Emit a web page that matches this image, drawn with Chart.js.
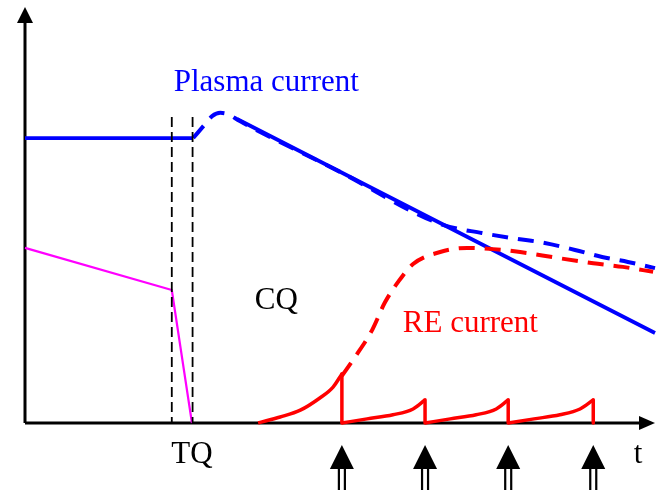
<!DOCTYPE html>
<html>
<head>
<meta charset="utf-8">
<script src="https://cdn.jsdelivr.net/npm/chart.js@4/dist/chart.umd.min.js"></script>
<style>
  html,body{margin:0;padding:0;background:#fff;}
  canvas{display:block;}
</style>
</head>
<body>
<canvas id="cqChart" width="667" height="490"></canvas>
<script>
// time axis 0..100, current axis 0..100 (arbitrary units)
const tqTimes = [23.3, 26.6];
const tqTop = 74.1;

// ohmic plasma current (solid blue), null = gap during the bump
const plasmaT = [0, 26.6, 30, 33.65, 100];
const plasmaI = [69, 69, null, 73.6, 21.8];

// total plasma current (dashed blue)
const totalT = [26.7, 28.6, 29.7, 31.0, 32.2, 34.1, 50, 65.9, 72.5, 78.1, 82.5, 87.3, 91.6, 95.7, 100];
const totalI = [69.0, 72.4, 74.3, 75.1, 74.8, 73.1, 60.8, 48.2, 46.0, 44.6, 43.6, 41.9, 40.2, 39.0, 37.5];

// runaway electron current (dashed red)
const reT = [50.3, 52.4, 55.1, 57.1, 59.2, 61.6, 65.9, 70.2, 74.3, 78.6, 84.4, 90.2, 94.9, 99.7];
const reI = [11.4, 16.0, 22.5, 29.1, 34.1, 38.5, 41.4, 42.4, 42.1, 41.4, 40.0, 38.7, 37.8, 36.6];

// seed RE current, sawtooth (solid red); a repeated time = drop to zero
const seedT = [37.0, 40.5, 43.7, 46.8, 48.9, 50.3, 50.3, 54.3, 58.4, 61.6, 63.5, 63.5, 67.5, 71.6, 74.8, 76.7, 76.7, 80.8, 84.9, 88.1, 90.2, 90.2];
const seedI = [0, 1.45, 3.1, 6.05, 8.7, 11.9, 0, 1.0, 2.0, 3.4, 5.6, 0, 1.0, 2.0, 3.4, 5.6, 0, 1.0, 2.0, 3.4, 5.6, 0];

// thermal energy (magenta)
const thermalT = [0, 23.3, 26.5];
const thermalW = [42.4, 32.2, 0];

// kick times (arrows below the axis)
const kickTimes = [50.3, 63.5, 76.7, 90.2];

const zip = (xs, ys) => xs.map((x, i) => ({x: x, y: ys[i]}));

// split the sawtooth into smooth rising parts and vertical drops
function splitTeeth(ts, vs) {
  const rises = [], drops = [];
  let cur = [];
  ts.forEach((t, i) => {
    if (i > 0 && t === ts[i - 1]) {
      rises.push(cur);
      drops.push([{x: t, y: vs[i - 1]}, {x: t, y: vs[i]}]);
      cur = [];
    }
    cur.push({x: t, y: vs[i]});
  });
  if (cur.length > 1) rises.push(cur);
  return {rises, drops};
}

const serif = '"Liberation Serif", "Times New Roman", serif';

const annotations = [
  {text: "Plasma current", x: 38.3, y: 80.4, color: "#0000ff"},
  {text: "CQ", x: 39.9, y: 27.6, color: "#000"},
  {text: "RE current", x: 70.7, y: 22.0, color: "#ff0000"},
  {text: "TQ", x: 26.5, y: -9.7, color: "#000"},
  {text: "t", x: 97.3, y: -9.7, color: "#000"}
];

/* axes with arrowheads */
const axesPlugin = {
  id: "axes",
  beforeDatasetsDraw(chart) {
    const c = chart.ctx, a = chart.chartArea;
    c.save();
    c.strokeStyle = "#000";
    c.fillStyle = "#000";
    c.lineWidth = 3;
    c.beginPath();
    c.moveTo(a.left, a.bottom);
    c.lineTo(a.left, a.top + 12);
    c.moveTo(a.left, a.bottom);
    c.lineTo(a.right - 14, a.bottom);
    c.stroke();
    c.beginPath();
    c.moveTo(a.left, a.top - 3);
    c.lineTo(a.left - 8, a.top + 13);
    c.lineTo(a.left + 8, a.top + 13);
    c.closePath();
    c.fill();
    c.beginPath();
    c.moveTo(a.right, a.bottom);
    c.lineTo(a.right - 16, a.bottom - 7);
    c.lineTo(a.right - 16, a.bottom + 7);
    c.closePath();
    c.fill();
    c.restore();
  }
};

/* kick arrows + text */
const notesPlugin = {
  id: "notes",
  afterDatasetsDraw(chart) {
    const c = chart.ctx, xs = chart.scales.x, ys = chart.scales.y;
    c.save();
    c.fillStyle = "#000";
    c.strokeStyle = "#000";
    kickTimes.forEach(t => {
      const px = xs.getPixelForValue(t);
      c.beginPath();
      c.moveTo(px, 445);
      c.lineTo(px - 12, 469);
      c.lineTo(px + 12, 469);
      c.closePath();
      c.fill();
      c.lineWidth = 2.2;
      c.beginPath();
      c.moveTo(px - 3, 468); c.lineTo(px - 3, 490);
      c.moveTo(px + 3, 468); c.lineTo(px + 3, 490);
      c.stroke();
    });
    c.font = "31px " + serif;
    c.textAlign = "center";
    c.textBaseline = "alphabetic";
    annotations.forEach(n => {
      c.fillStyle = n.color;
      c.fillText(n.text, xs.getPixelForValue(n.x), ys.getPixelForValue(n.y));
    });
    c.restore();
  }
};

const base = {pointRadius: 0, fill: false, clip: false, borderCapStyle: "butt", borderJoinStyle: "round"};
const teeth = splitTeeth(seedT, seedI);

const datasets = [
  ...tqTimes.map(t => ({...base, data: [{x: t, y: tqTop}, {x: t, y: 0}], borderColor: "#000", borderWidth: 1.8, borderDash: [10, 5]})),
  {...base, data: zip(thermalT, thermalW), borderColor: "#ff00ff", borderWidth: 2.2, tension: 0},
  ...teeth.rises.map(d => ({...base, data: d, borderColor: "#ff0000", borderWidth: 3.5, cubicInterpolationMode: "monotone"})),
  ...teeth.drops.map(d => ({...base, data: d, borderColor: "#ff0000", borderWidth: 3.5, tension: 0})),
  {...base, data: zip(reT, reI), borderColor: "#ff0000", borderWidth: 4, borderDash: [16, 10], cubicInterpolationMode: "monotone"},
  {...base, data: zip(totalT, totalI), borderColor: "#0000ff", borderWidth: 4, borderDash: [16, 10], cubicInterpolationMode: "monotone"},
  {...base, data: zip(plasmaT, plasmaI), borderColor: "#0000ff", borderWidth: 3.8, tension: 0, spanGaps: false}
];

new Chart(document.getElementById("cqChart"), {
  type: "line",
  data: {datasets: datasets},
  options: {
    responsive: false,
    animation: false,
    layout: {padding: {left: 25, right: 12, top: 10, bottom: 67}},
    plugins: {legend: {display: false}, tooltip: {enabled: false}},
    scales: {
      x: {type: "linear", min: 0, max: 100, display: false},
      y: {type: "linear", min: 0, max: 100, display: false}
    }
  },
  plugins: [axesPlugin, notesPlugin]
});
</script>
</body>
</html>
